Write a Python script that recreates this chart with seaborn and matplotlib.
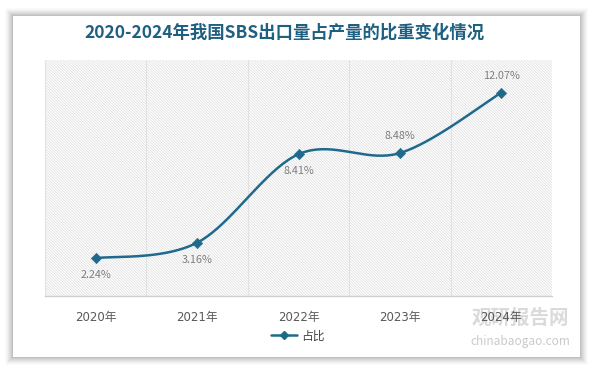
import numpy as np
import pandas as pd
import matplotlib
matplotlib.use('Agg')
import matplotlib.pyplot as plt
import seaborn as sns
from matplotlib.patches import Rectangle
from matplotlib.lines import Line2D

# data
years = ['2020年', '2021年', '2022年', '2023年', '2024年']
share = [2.24, 3.16, 8.41, 8.48, 12.07]
labels = ['2.24%', '3.16%', '8.41%', '8.48%', '12.07%']
label_pos = ['below', 'below', 'below', 'above', 'above']

title = '2020-2024年我国SBS出口量占产量的比重变化情况'
line_color = '#1f6a8c'

sns.set_theme(style='white')
plt.rcParams['font.family'] = ['Noto Sans CJK SC', 'DejaVu Sans']
plt.rcParams['hatch.linewidth'] = 0.5

fig = plt.figure(figsize=(5.94, 3.66), dpi=100)
fig.patch.set_facecolor('white')

# card with soft shadow
W, H = 594, 366
for i, a in enumerate([0.015, 0.02, 0.025, 0.03, 0.035, 0.04, 0.045, 0.05]):
    pad = 8 - i
    fig.patches.append(Rectangle(((13 - pad) / W, (366 - 357 - pad) / H),
                                 (567 + 2 * pad) / W, (341 + 2 * pad) / H,
                                 transform=fig.transFigure, facecolor='black',
                                 edgecolor='none', alpha=a, zorder=-2))
fig.patches.append(Rectangle((13 / W, 9 / H), 567 / W, 341 / H,
                             transform=fig.transFigure, facecolor='white',
                             edgecolor='none', zorder=-1))

ax = fig.add_axes([45 / W, (366 - 296) / H, (552 - 45) / W, (296 - 60) / H])
ax.set_facecolor('none')
ax.set_zorder(1)

x = np.arange(len(years))
y = np.array(share)

# smoothed curve (Bezier through the points, like the office "smooth line")
sx, sy = 102.0, 16.9
px, py = x * sx, y * sy
xs, ys = [], []
n = len(x)
for i in range(n - 1):
    p0 = max(i - 1, 0)
    p3 = min(i + 2, n - 1)
    b0 = np.array([px[i], py[i]])
    b3 = np.array([px[i + 1], py[i + 1]])
    b1 = b0 + (np.array([px[i + 1], py[i + 1]]) - np.array([px[p0], py[p0]])) / 6
    b2 = b3 - (np.array([px[p3], py[p3]]) - np.array([px[i], py[i]])) / 6
    t = np.linspace(0, 1, 40)[:, None]
    pts = (1 - t) ** 3 * b0 + 3 * t * (1 - t) ** 2 * b1 + 3 * t ** 2 * (1 - t) * b2 + t ** 3 * b3
    xs.extend(pts[:, 0] / sx)
    ys.extend(pts[:, 1] / sy)
curve = pd.DataFrame({'x': xs, 'y': ys})
df = pd.DataFrame({'x': x, 'y': y})

ax.set_xlim(-0.5, 4.5)
ax.set_ylim(0, 14)

# hatched plot background
ax.add_patch(Rectangle((-0.5, 0), 5, 14, facecolor='white', edgecolor='#dcdcdc',
                       hatch='\\' * 12, linewidth=0, zorder=0))
for b in np.arange(0.5, 4.5, 1):
    ax.axvline(b, color='#e2e2e2', lw=0.8, zorder=1)

sns.lineplot(data=curve, x='x', y='y', sort=False, estimator=None, color=line_color,
             lw=1.8, ax=ax, zorder=3)
sns.scatterplot(data=df, x='x', y='y', marker='D', s=28, color=line_color,
                edgecolor=line_color, ax=ax, zorder=4)

for xi, yi, lab, pos in zip(x, y, labels, label_pos):
    off = -17 if pos == 'below' else 17
    ax.annotate(lab, (xi, yi), xytext=(0, off), textcoords='offset pixels',
                ha='center', va='center', fontsize=7.8, color='#7f7f7f')

ax.set_xticks(x)
ax.set_xticklabels(years, fontsize=8.5, color='#595959',
                   family=['DejaVu Sans', 'Noto Sans CJK SC'])
ax.set_yticks([])
ax.tick_params(axis='x', length=0, pad=11)
ax.set_xlabel('')
ax.set_ylabel('')
for s in ['top', 'right']:
    ax.spines[s].set_visible(False)
ax.spines['left'].set_color('#e2e2e2')
ax.spines['bottom'].set_color('#d0d0d0')
ax.spines['left'].set_linewidth(0.8)
ax.spines['bottom'].set_linewidth(1.0)

handle = Line2D([], [], color=line_color, lw=1.8, marker='D', markersize=4)
fig.legend([handle], ['占比'], loc='center', bbox_to_anchor=(298 / W, (366 - 336) / H),
           frameon=False, fontsize=8.5, handlelength=2.2, handletextpad=0.3,
           labelcolor='#404040')

fig.text(284 / W, (366 - 33) / H, title, ha='center', va='center', fontsize=12.5,
         fontweight='bold', color='#1f6082')

# watermark
fig.text(520 / W, (366 - 318) / H, '观研报告网', ha='center', va='center', fontsize=14,
         fontweight='bold', color='#bdbdbd', alpha=0.55, zorder=0)
fig.text(520 / W, (366 - 342) / H, 'chinabaogao.com', ha='center', va='center', fontsize=8.5,
         color='#bdbdbd', alpha=0.8)

fig.savefig('out.png', dpi=100)
